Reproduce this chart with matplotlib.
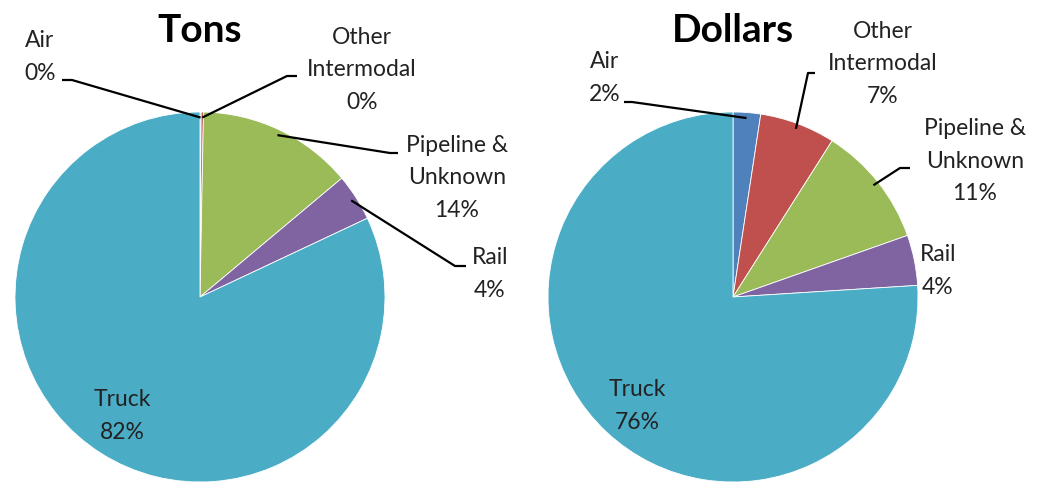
import numpy as np
import matplotlib
matplotlib.use('Agg')
import matplotlib.pyplot as plt

modes = ['Air', 'Other\nIntermodal', 'Pipeline &\nUnknown', 'Rail', 'Truck']
tons = [0.1, 0.2, 13.6, 4.1, 82.0]
dollars = [2.4, 6.6, 10.6, 4.4, 76.0]
colors = ['#4F81BD', '#C0504D', '#9BBB59', '#8064A2', '#4BACC6']

W, H = 1040, 483
plt.rcParams['font.family'] = ['Lato', 'DejaVu Sans']

fig = plt.figure(figsize=(W / 100, H / 100), dpi=100)
ax = fig.add_axes([0, 0, 1, 1])
ax.axis('off')

R = 185


def py(y):
    return H - y


def draw_pie(vals, cx, cy, title, labpos, elbows):
    wedges, _ = ax.pie(vals, colors=colors, startangle=90, counterclock=False,
                       center=(cx, py(cy)), radius=R, frame=False,
                       wedgeprops=dict(edgecolor='white', linewidth=0.6))
    ax.text(cx, py(30), title, ha='center', va='center', fontsize=28,
            fontweight='bold')
    for i, w in enumerate(wedges):
        lab = modes[i] + '\n' + f"{vals[i]:.0f}%"
        tx, ty = labpos[i]
        ax.text(tx, py(ty), lab, ha='center', va='center', fontsize=16.5,
                linespacing=1.68, color='#222222')
        if elbows[i] is None:
            continue
        ang = np.deg2rad((w.theta1 + w.theta2) / 2)
        ax0 = cx + 0.97 * R * np.cos(ang)
        ay0 = py(cy) + 0.97 * R * np.sin(ang)
        (ex, ey), (hx, hy) = elbows[i]
        ax.plot([ax0, ex, hx], [ay0, py(ey), py(hy)], color='black', lw=1.6,
                solid_capstyle='butt')


draw_pie(tons, 200, 297, 'Tons',
         [(40, 57), (362, 70), (457, 178), (490, 274), (122, 416)],
         [((72, 80), (62, 80)), ((287, 76), (297, 76)),
          ((390, 153), (398, 153)), ((455, 266), (466, 266)), None])

draw_pie(dollars, 733, 297, 'Dollars',
         [(605, 78), (883, 64), (975, 161), (938, 271), (637, 406)],
         [((632, 102), (624, 102)), ((808, 73), (815, 73)),
          ((900, 168), (910, 168)), None, None])

ax.set_xlim(0, W)
ax.set_ylim(0, H)
ax.set_aspect('auto')
ax.axis('off')

fig.savefig('out.png', dpi=100)
